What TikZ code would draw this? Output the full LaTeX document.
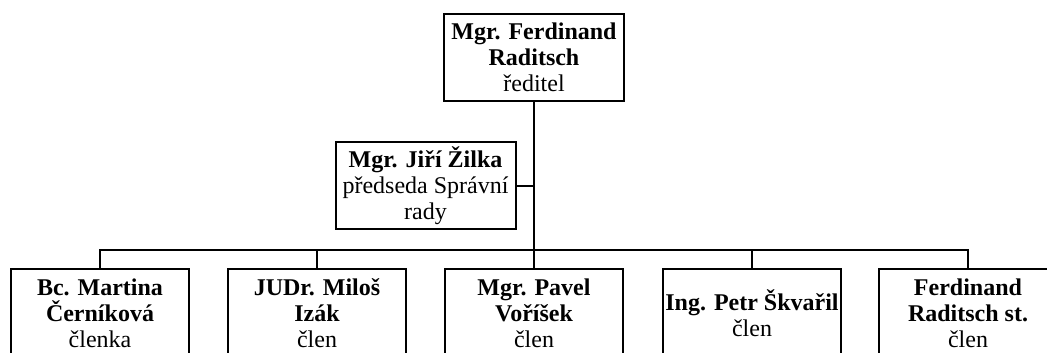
\documentclass[tikz,border=0pt]{standalone}
\usepackage{fontspec}
\setmainfont{Liberation Serif}
\begin{document}
\begin{tikzpicture}[x=0.75pt,y=-0.75pt,
  box/.style={draw, line width=1.5pt, align=center, inner sep=1pt,
    font=\fontsize{18pt}{19.5pt}\selectfont},
  topbox/.style={box, minimum width=180*0.75pt, minimum height=87*0.75pt},
  staffbox/.style={box, minimum width=178*0.75pt, minimum height=88*0.75pt},
  conn/.style={line width=1.5pt},
  trunk/.style={line width=1.9pt}]
\useasboundingbox (0,0) rectangle (1047,353);
\clip (0,0) rectangle (1047,353);
\node[topbox] (dir) at (534,57.5) {\textbf{Mgr. Ferdinand}\\\textbf{Raditsch}\\ředitel};
\node[topbox] (zilka) at (425.5,185.5) {\textbf{Mgr. Jiří Žilka}\\předseda Správní\\rady};
\node[staffbox] (b1) at (100,313) {\textbf{Bc. Martina}\\\textbf{Černíková}\\členka};
\node[staffbox] (b2) at (317,313) {\textbf{JUDr. Miloš}\\\textbf{Izák}\\člen};
\node[staffbox] (b3) at (534,313) {\textbf{Mgr. Pavel}\\\textbf{Voříšek}\\člen};
\node[staffbox] (b4) at (752,313) {\textbf{Ing. Petr Škvařil}\\člen};
\node[staffbox] (b5) at (968,313) {\textbf{Ferdinand}\\\textbf{Raditsch st.}\\člen};
\coordinate (bus) at (534,250);
\draw[trunk] (dir.south) -- (b3.north);
\draw[conn] (zilka.east) -- (zilka.east -| dir.south);
\draw[conn] (b1.north) |- (bus);
\draw[conn] (b5.north) |- (bus);
\draw[conn] (b2.north) -- (b2.north |- bus);
\draw[conn] (b4.north) -- (b4.north |- bus);
\end{tikzpicture}
\end{document}
